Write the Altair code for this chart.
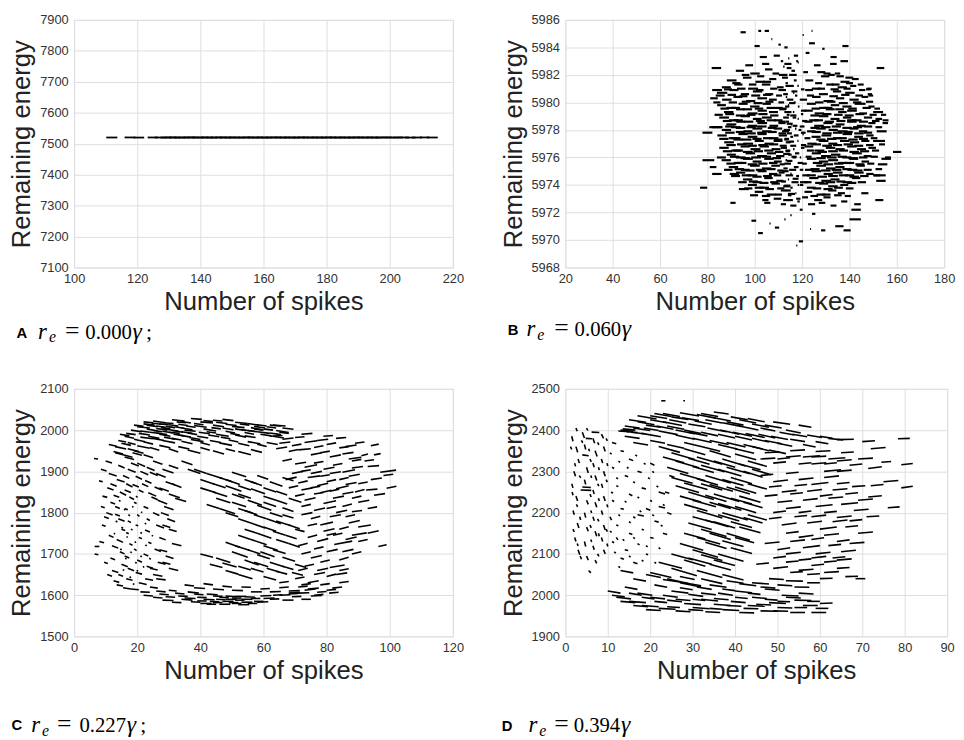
import altair as alt
import pandas as pd

# ---------------- tick values ----------------
a_xticks = [100, 120, 140, 160, 180, 200, 220]
a_yticks = [7100, 7200, 7300, 7400, 7500, 7600, 7700, 7800, 7900]
b_xticks = [20, 40, 60, 80, 100, 120, 140, 160, 180]
b_yticks = [5968, 5970, 5972, 5974, 5976, 5978, 5980, 5982, 5984, 5986]
c_xticks = [0, 20, 40, 60, 80, 100, 120]
c_yticks = [1500, 1600, 1700, 1800, 1900, 2000, 2100]
d_xticks = [0, 10, 20, 30, 40, 50, 60, 70, 80, 90]
d_yticks = [1900, 2000, 2100, 2200, 2300, 2400, 2500]

panel_letters = ["A", "B", "C", "D"]
panel_re = ["0.000", "0.060", "0.227", "0.394"]
panel_semicolon = [True, False, True, False]

# ---------------- panel A: (x, y, dx) ----------------
a_segs = [
    (110.2, 7520.0, 3.5), (116.0, 7520.2, 3.4), (118.9, 7519.8, 3.3), (123.3, 7520.1, 3.2),
    (125.6, 7520.0, 3.5), (127.4, 7519.9, 3.4), (128.9, 7520.2, 3.6), (130.2, 7520.0, 3.3),
    (131.8, 7519.8, 3.5), (133.1, 7520.1, 3.4), (134.7, 7520.0, 3.6), (136.0, 7520.2, 3.3),
    (137.5, 7519.9, 3.5), (139.1, 7520.0, 3.4), (140.4, 7520.1, 3.6), (141.9, 7519.8, 3.3),
    (143.3, 7520.0, 3.5), (144.8, 7520.2, 3.4), (146.2, 7519.9, 3.6), (147.7, 7520.0, 3.3),
    (149.0, 7520.1, 3.5), (150.6, 7519.8, 3.4), (152.1, 7520.0, 3.6), (153.5, 7520.2, 3.3),
    (155.0, 7519.9, 3.5), (156.4, 7520.0, 3.4), (157.9, 7520.1, 3.6), (159.3, 7519.8, 3.3),
    (160.8, 7520.0, 3.5), (162.2, 7520.2, 3.4), (163.7, 7519.9, 3.6), (165.1, 7520.0, 3.3),
    (166.6, 7520.1, 3.5), (168.0, 7519.8, 3.4), (169.5, 7520.0, 3.6), (170.9, 7520.2, 3.3),
    (172.4, 7519.9, 3.5), (173.8, 7520.0, 3.4), (175.3, 7520.1, 3.6), (176.7, 7519.8, 3.3),
    (178.2, 7520.0, 3.5), (179.6, 7520.2, 3.4), (181.1, 7519.9, 3.6), (182.5, 7520.0, 3.3),
    (184.0, 7520.1, 3.5), (185.4, 7519.8, 3.4), (186.9, 7520.0, 3.6), (188.3, 7520.2, 3.3),
    (189.8, 7519.9, 3.5), (191.2, 7520.0, 3.4), (192.7, 7520.1, 3.6), (194.1, 7519.8, 3.3),
    (195.6, 7520.0, 3.5), (197.3, 7520.2, 3.4), (199.0, 7519.9, 3.6), (200.9, 7520.0, 3.3),
    (202.6, 7520.1, 3.5), (204.8, 7519.8, 3.4), (207.0, 7520.0, 3.2), (209.5, 7520.2, 3.0),
    (211.8, 7520.0, 3.4),
]

# ---------------- panel B: (x, y, dx) ----------------
b_outer = [
    (94.0, 5985.1, 2.2), (101.5, 5985.2, 1.2), (104.2, 5985.2, 1.8), (124.0, 5985.2, 0.4),
    (120.2, 5984.9, 0.5), (137.0, 5984.1, 2.6), (122.9, 5984.3, 2.5), (99.9, 5984.1, 2.2),
    (107.0, 5984.6, 0.4), (110.0, 5984.2, 1.0), (128.5, 5983.9, 1.0), (132.0, 5983.3, 2.6),
    (136.2, 5983.0, 3.2), (131.8, 5982.8, 2.8), (81.8, 5982.5, 4.0), (151.5, 5982.5, 3.2),
    (133.8, 5982.1, 2.3), (138.3, 5981.8, 3.3), (82.0, 5980.9, 4.2), (147.3, 5981.0, 2.1),
    (147.7, 5980.6, 1.8), (81.2, 5980.3, 3.2), (145.5, 5979.9, 1.3), (150.0, 5979.3, 4.2),
    (153.3, 5979.1, 2.2), (154.0, 5978.5, 2.3), (80.8, 5978.2, 5.6), (151.5, 5977.9, 4.2),
    (77.9, 5977.8, 4.2), (150.0, 5977.2, 5.0), (158.4, 5976.4, 3.5), (153.5, 5975.9, 4.0),
    (77.9, 5975.8, 5.0), (152.0, 5975.5, 4.0), (81.0, 5975.3, 2.8), (82.0, 5974.8, 4.0),
    (150.3, 5974.7, 5.0), (151.3, 5974.3, 4.0), (76.9, 5973.8, 3.0), (89.4, 5974.8, 4.0),
    (93.3, 5973.7, 4.2), (145.0, 5973.4, 3.0), (150.9, 5972.9, 3.4), (89.7, 5972.7, 2.2),
    (103.2, 5972.9, 2.6), (142.0, 5972.6, 2.8), (140.8, 5972.2, 4.0), (140.0, 5971.5, 4.8),
    (98.6, 5971.4, 2.0), (134.0, 5971.0, 3.5), (137.5, 5970.7, 3.0), (128.0, 5970.7, 1.8),
    (108.5, 5970.9, 1.8), (101.4, 5970.5, 2.0), (118.6, 5969.9, 1.8), (117.5, 5969.6, 0.5),
    (124.2, 5971.9, 1.4), (106.2, 5971.2, 0.5), (112.5, 5971.5, 0.5), (123.4, 5970.8, 0.4),
]
b_core = [
    (92.0, 5982.3, 3.5), (98.1, 5982.1, 4.0), (104.3, 5982.4, 3.2), (110.2, 5982.0, 3.6), (126.4, 5982.2, 3.4), (131.0, 5982.0, 2.8),
    (88.2, 5981.6, 4.1), (95.0, 5981.8, 3.6), (100.3, 5981.5, 3.9), (106.1, 5981.7, 3.0), (121.4, 5981.6, 3.3), (128.0, 5981.9, 3.5), (136.2, 5981.5, 3.8), (141.0, 5981.7, 2.9),
    (86.1, 5981.1, 3.8), (91.3, 5981.3, 3.5), (97.2, 5981.0, 4.2), (103.0, 5981.3, 3.6), (109.4, 5981.1, 2.8), (118.0, 5981.2, 0.6), (124.1, 5981.0, 3.7), (130.2, 5981.3, 3.1), (135.0, 5981.1, 3.9), (140.3, 5981.2, 2.6),
    (84.0, 5980.7, 4.4), (89.3, 5980.9, 3.8), (94.1, 5980.6, 3.5), (99.2, 5980.8, 4.0), (104.4, 5980.6, 3.4), (110.0, 5980.9, 3.2), (116.2, 5980.7, 0.5), (121.3, 5980.9, 3.3), (127.1, 5980.6, 3.8), (133.0, 5980.8, 3.5), (138.2, 5980.7, 4.0), (144.0, 5980.9, 2.7),
    (86.2, 5980.2, 4.0), (91.0, 5980.4, 3.7), (96.3, 5980.1, 3.9), (101.1, 5980.3, 4.1), (106.0, 5980.2, 3.3), (113.1, 5980.4, 0.6), (119.0, 5980.2, 3.1), (124.2, 5980.4, 3.6), (129.0, 5980.1, 4.2), (134.3, 5980.3, 3.5), (140.0, 5980.2, 3.9), (145.1, 5980.4, 2.8),
    (84.1, 5979.8, 3.7), (88.0, 5979.6, 4.2), (93.2, 5979.9, 3.8), (98.0, 5979.7, 4.0), (103.3, 5979.9, 3.5), (108.1, 5979.6, 3.7), (114.0, 5979.8, 0.5), (118.2, 5979.7, 0.7), (122.0, 5979.9, 3.8), (127.2, 5979.6, 4.0), (132.1, 5979.8, 3.6), (137.0, 5979.7, 3.9), (142.2, 5979.9, 3.5), (148.0, 5979.7, 2.6),
    (87.0, 5979.3, 4.0), (92.1, 5979.5, 3.6), (97.0, 5979.2, 4.2), (101.2, 5979.4, 3.9), (106.0, 5979.3, 3.8), (110.3, 5979.5, 2.9), (116.1, 5979.3, 0.6), (121.0, 5979.4, 3.5), (125.3, 5979.2, 4.0), (130.0, 5979.5, 3.8), (135.2, 5979.3, 3.6), (139.0, 5979.4, 4.1), (144.1, 5979.2, 3.3),
    (85.0, 5978.9, 4.1), (89.1, 5978.7, 3.9), (94.0, 5979.0, 4.0), (99.2, 5978.8, 3.7), (103.0, 5978.9, 4.2), (108.2, 5978.7, 3.5), (112.0, 5978.9, 2.4), (118.1, 5978.8, 0.5), (123.0, 5978.7, 3.9), (127.1, 5979.0, 4.0), (132.0, 5978.8, 3.8), (137.2, 5978.9, 3.6), (141.0, 5978.7, 4.1), (146.1, 5978.9, 3.5), (151.0, 5978.8, 2.8),
    (88.0, 5978.4, 4.2), (92.2, 5978.6, 3.8), (97.0, 5978.3, 4.0), (101.1, 5978.5, 4.1), (106.2, 5978.3, 3.7), (110.0, 5978.5, 3.0), (115.2, 5978.4, 0.6), (121.0, 5978.6, 3.4), (125.1, 5978.3, 4.1), (129.0, 5978.5, 3.9), (134.2, 5978.4, 3.7), (139.0, 5978.6, 4.0), (143.1, 5978.3, 3.8), (148.0, 5978.5, 3.0),
    (86.1, 5978.0, 3.9), (90.0, 5978.2, 4.1), (95.2, 5977.9, 3.8), (99.0, 5978.1, 4.2), (103.1, 5977.9, 4.0), (108.0, 5978.1, 3.6), (112.2, 5978.0, 2.7), (117.0, 5978.1, 0.6), (122.1, 5977.9, 3.6), (126.0, 5978.1, 4.0), (131.2, 5978.0, 3.9), (135.0, 5977.9, 4.2), (140.1, 5978.1, 3.7), (144.0, 5977.9, 3.5),
    (84.2, 5977.6, 4.0), (89.0, 5977.4, 4.2), (93.1, 5977.7, 3.9), (97.0, 5977.5, 4.1), (101.2, 5977.7, 3.8), (106.0, 5977.4, 4.0), (110.1, 5977.6, 3.5), (115.0, 5977.5, 1.2), (120.1, 5977.7, 0.6), (124.0, 5977.5, 3.8), (128.2, 5977.6, 4.1), (133.0, 5977.4, 3.9), (137.1, 5977.7, 4.0), (142.0, 5977.5, 3.7), (147.1, 5977.6, 3.1),
    (87.1, 5977.1, 4.1), (91.0, 5977.3, 3.9), (95.1, 5977.0, 4.2), (100.0, 5977.2, 3.8), (104.1, 5977.0, 4.0), (108.0, 5977.2, 3.7), (113.1, 5977.1, 2.0), (118.0, 5977.2, 0.5), (122.2, 5977.0, 3.9), (127.0, 5977.2, 4.1), (131.1, 5977.0, 3.8), (136.0, 5977.2, 4.0), (140.2, 5977.1, 3.9), (145.0, 5977.2, 3.4),
    (85.0, 5976.7, 4.0), (90.1, 5976.5, 4.1), (94.0, 5976.8, 3.9), (98.2, 5976.6, 4.2), (102.0, 5976.8, 4.0), (107.1, 5976.6, 3.8), (111.0, 5976.7, 2.6), (116.2, 5976.6, 0.6), (121.0, 5976.8, 3.7), (125.2, 5976.5, 4.2), (130.0, 5976.7, 4.0), (134.1, 5976.6, 3.9), (139.0, 5976.8, 4.1), (143.2, 5976.6, 3.8), (148.0, 5976.7, 3.2),
    (88.2, 5976.2, 3.8), (92.0, 5976.0, 4.1), (96.1, 5976.3, 4.0), (101.0, 5976.1, 4.2), (105.1, 5976.3, 3.9), (109.0, 5976.1, 3.5), (114.1, 5976.2, 1.5), (119.0, 5976.0, 0.6), (124.1, 5976.3, 3.9), (128.0, 5976.1, 4.2), (132.2, 5976.2, 4.0), (137.0, 5976.0, 3.8), (141.1, 5976.3, 4.1), (146.0, 5976.1, 3.3),
    (86.0, 5975.8, 3.9), (91.1, 5975.6, 4.0), (95.0, 5975.9, 4.2), (99.1, 5975.7, 3.8), (104.0, 5975.9, 4.0), (108.1, 5975.7, 3.3), (113.0, 5975.8, 0.6), (118.1, 5975.6, 2.2), (122.0, 5975.9, 4.0), (127.1, 5975.7, 3.9), (131.0, 5975.8, 4.2), (135.2, 5975.6, 4.0), (140.0, 5975.9, 3.7), (145.1, 5975.7, 3.2),
    (89.0, 5975.3, 4.0), (94.1, 5975.1, 3.8), (98.0, 5975.4, 4.1), (103.1, 5975.2, 3.9), (107.0, 5975.4, 3.6), (112.1, 5975.2, 1.8), (117.0, 5975.3, 0.5), (121.2, 5975.1, 3.8), (126.0, 5975.4, 4.1), (130.1, 5975.2, 4.0), (134.0, 5975.3, 3.9), (139.1, 5975.1, 4.2), (143.0, 5975.4, 3.5),
    (92.1, 5974.9, 3.9), (97.0, 5974.7, 4.1), (101.2, 5975.0, 3.8), (106.0, 5974.8, 3.6), (110.1, 5974.9, 2.5), (115.0, 5974.8, 0.6), (120.1, 5974.7, 3.0), (124.0, 5975.0, 4.0), (129.1, 5974.8, 3.9), (133.0, 5974.9, 4.1), (138.2, 5974.7, 3.8), (142.0, 5974.9, 4.0), (147.1, 5974.8, 3.1),
    (95.0, 5974.4, 4.0), (99.1, 5974.2, 3.8), (104.0, 5974.5, 3.6), (109.1, 5974.3, 3.0), (114.0, 5974.4, 0.5), (119.1, 5974.2, 3.2), (123.0, 5974.5, 3.9), (128.1, 5974.3, 4.1), (132.0, 5974.4, 3.8), (137.1, 5974.2, 4.0), (141.0, 5974.5, 3.6),
    (97.1, 5974.0, 3.8), (102.0, 5973.8, 4.0), (107.1, 5974.1, 3.5), (112.0, 5973.9, 2.8), (118.1, 5974.0, 0.6), (122.0, 5973.8, 3.7), (127.1, 5974.1, 3.9), (131.0, 5973.9, 4.0), (136.1, 5974.0, 3.4),
    (100.0, 5973.5, 3.6), (105.1, 5973.3, 3.8), (111.0, 5973.6, 2.4), (117.1, 5973.4, 0.5), (121.0, 5973.5, 3.3), (126.1, 5973.3, 3.7), (131.0, 5973.6, 3.5), (135.1, 5973.4, 3.0),
    (108.0, 5973.0, 3.2), (114.1, 5972.9, 2.0), (120.0, 5973.1, 2.5), (125.1, 5972.9, 3.4), (129.0, 5973.1, 3.0),
    (96.0, 5982.7, 3.3), (103.1, 5982.8, 3.0), (112.0, 5982.6, 0.6), (118.1, 5982.9, 0.5), (125.0, 5982.7, 2.8),
    (102.1, 5983.3, 3.0), (108.0, 5983.4, 2.6), (114.1, 5983.2, 0.5),
]
b_core2 = [
    (94.5, 5982.0, 3.2), (101.0, 5981.9, 3.0), (107.5, 5982.1, 2.8), (129.0, 5982.1, 3.0), (134.5, 5981.9, 3.1),
    (90.5, 5981.4, 3.5), (97.5, 5981.3, 3.2), (103.5, 5981.5, 3.4), (113.0, 5981.4, 1.0), (125.5, 5981.4, 3.0), (132.5, 5981.3, 3.3), (138.5, 5981.4, 3.0), (143.5, 5981.3, 2.5),
    (87.0, 5980.95, 3.4), (92.5, 5981.0, 3.6), (100.5, 5980.9, 3.2), (106.5, 5981.0, 3.0), (119.5, 5980.95, 1.5), (126.5, 5981.0, 3.2), (132.0, 5980.95, 3.5), (137.5, 5981.0, 3.0), (147.0, 5980.95, 2.0),
    (83.5, 5980.5, 3.8), (88.5, 5980.55, 3.6), (93.5, 5980.45, 3.4), (98.5, 5980.5, 3.8), (103.5, 5980.55, 3.5), (109.0, 5980.5, 2.5), (122.0, 5980.5, 3.0), (131.5, 5980.45, 3.6), (136.5, 5980.55, 3.5), (142.5, 5980.5, 3.2), (148.0, 5980.5, 2.0),
    (82.5, 5980.0, 3.0), (89.0, 5980.0, 3.5), (94.5, 5980.05, 3.6), (99.5, 5979.95, 3.8), (104.5, 5980.05, 3.4), (110.0, 5980.0, 2.4), (116.5, 5980.0, 0.8), (125.5, 5980.0, 3.5), (130.5, 5980.05, 3.6), (135.5, 5979.95, 3.8), (141.5, 5980.0, 3.5), (147.0, 5980.05, 3.0),
    (85.5, 5979.55, 3.6), (90.0, 5979.6, 3.8), (95.0, 5979.5, 3.9), (100.0, 5979.55, 3.6), (105.0, 5979.6, 3.4), (111.5, 5979.55, 2.0), (124.0, 5979.55, 3.6), (129.0, 5979.6, 3.8), (134.0, 5979.5, 3.7), (139.5, 5979.55, 3.6), (145.5, 5979.6, 3.5), (150.5, 5979.55, 2.4),
    (83.0, 5979.1, 3.5), (87.5, 5979.15, 3.8), (92.0, 5979.05, 4.0), (96.5, 5979.1, 3.8), (101.5, 5979.15, 3.9), (106.5, 5979.05, 3.5), (113.5, 5979.1, 1.2), (119.5, 5979.15, 1.0), (123.5, 5979.05, 3.8), (128.5, 5979.15, 3.9), (133.5, 5979.1, 3.6), (138.0, 5979.05, 3.8), (142.5, 5979.15, 3.8), (148.5, 5979.1, 3.0),
    (86.5, 5978.65, 3.8), (91.0, 5978.7, 4.0), (95.5, 5978.6, 3.9), (100.5, 5978.65, 3.8), (105.0, 5978.7, 3.9), (110.0, 5978.6, 3.0), (120.0, 5978.65, 2.2), (125.0, 5978.7, 3.8), (129.5, 5978.6, 4.0), (134.5, 5978.65, 3.8), (139.0, 5978.7, 3.9), (144.0, 5978.6, 3.8), (149.5, 5978.65, 3.2), (154.0, 5978.7, 2.5),
    (82.0, 5978.2, 4.0), (87.5, 5978.25, 3.9), (92.0, 5978.15, 4.0), (96.5, 5978.2, 3.9), (101.0, 5978.25, 4.0), (105.5, 5978.15, 3.8), (114.0, 5978.2, 1.5), (119.0, 5978.25, 2.0), (123.5, 5978.15, 3.9), (128.0, 5978.2, 4.0), (132.5, 5978.25, 3.9), (137.0, 5978.15, 4.0), (141.5, 5978.2, 3.9), (146.0, 5978.25, 3.6), (151.0, 5978.2, 2.8),
    (87.5, 5977.8, 4.0), (92.0, 5977.85, 4.1), (96.5, 5977.75, 3.9), (101.0, 5977.8, 4.0), (105.5, 5977.85, 3.8), (110.0, 5977.75, 3.2), (119.5, 5977.8, 2.0), (124.0, 5977.85, 3.9), (128.5, 5977.75, 4.0), (133.0, 5977.8, 4.1), (137.5, 5977.85, 3.9), (142.0, 5977.75, 4.0), (146.0, 5977.8, 3.6),
    (85.0, 5977.35, 3.9), (90.0, 5977.4, 4.0), (94.5, 5977.3, 4.1), (99.0, 5977.35, 3.9), (103.5, 5977.4, 4.0), (108.0, 5977.3, 3.7), (112.5, 5977.35, 2.0), (121.0, 5977.4, 2.5), (126.0, 5977.3, 3.9), (130.5, 5977.35, 4.0), (135.0, 5977.4, 3.9), (139.5, 5977.3, 4.0), (144.0, 5977.35, 3.8), (149.0, 5977.4, 2.8),
    (88.0, 5976.9, 4.0), (92.5, 5976.95, 4.1), (97.0, 5976.85, 3.9), (101.5, 5976.9, 4.0), (106.0, 5976.95, 3.9), (110.5, 5976.85, 3.0), (119.5, 5976.9, 2.2), (124.0, 5976.95, 4.0), (128.5, 5976.85, 4.1), (133.0, 5976.9, 3.9), (137.5, 5976.95, 4.0), (142.0, 5976.85, 3.8), (147.0, 5976.9, 3.2), (152.5, 5976.95, 2.5),
    (86.5, 5976.45, 3.9), (91.0, 5976.5, 4.0), (95.0, 5976.4, 4.1), (99.5, 5976.45, 4.0), (104.0, 5976.5, 3.9), (108.5, 5976.4, 3.6), (113.0, 5976.45, 1.8), (122.0, 5976.5, 3.0), (126.5, 5976.4, 4.0), (131.0, 5976.45, 4.1), (135.5, 5976.5, 3.9), (140.0, 5976.4, 4.0), (144.5, 5976.45, 3.8), (149.5, 5976.5, 3.0),
    (84.0, 5976.0, 3.8), (89.5, 5976.05, 4.0), (94.0, 5975.95, 4.0), (98.5, 5976.0, 4.1), (103.0, 5976.05, 3.9), (107.5, 5975.95, 3.6), (116.0, 5976.0, 1.5), (121.5, 5976.05, 2.5), (126.0, 5975.95, 4.0), (130.5, 5976.0, 4.1), (135.0, 5976.05, 3.9), (139.5, 5975.95, 4.0), (144.0, 5976.0, 3.6), (149.0, 5976.05, 3.0), (155.0, 5976.0, 2.5),
    (88.0, 5975.55, 3.9), (92.5, 5975.6, 4.0), (97.0, 5975.5, 4.1), (101.5, 5975.55, 3.9), (106.0, 5975.6, 3.6), (110.5, 5975.5, 2.2), (120.0, 5975.55, 2.0), (124.5, 5975.6, 4.0), (129.0, 5975.5, 4.1), (133.5, 5975.55, 3.9), (138.0, 5975.6, 4.0), (142.5, 5975.5, 3.8), (147.5, 5975.55, 3.0),
    (87.0, 5975.1, 3.6), (91.5, 5975.15, 4.0), (96.0, 5975.05, 3.9), (100.5, 5975.1, 4.0), (105.0, 5975.15, 3.8), (109.5, 5975.05, 2.6), (119.0, 5975.1, 1.5), (123.5, 5975.15, 3.9), (128.0, 5975.05, 4.0), (132.5, 5975.1, 4.1), (137.0, 5975.15, 3.9), (141.5, 5975.05, 4.0), (146.0, 5975.1, 3.4), (151.0, 5975.15, 2.8),
    (90.0, 5974.65, 3.8), (94.5, 5974.7, 4.0), (99.0, 5974.6, 3.9), (103.5, 5974.65, 3.7), (108.0, 5974.7, 3.2), (117.5, 5974.65, 1.2), (122.0, 5974.7, 3.8), (126.5, 5974.6, 4.0), (131.0, 5974.65, 4.1), (135.5, 5974.7, 3.9), (140.0, 5974.6, 4.0), (144.5, 5974.65, 3.6), (150.0, 5974.7, 3.0),
    (93.0, 5974.2, 3.6), (97.5, 5974.25, 3.9), (102.0, 5974.15, 3.8), (106.5, 5974.2, 3.4), (111.0, 5974.25, 2.2), (121.0, 5974.2, 3.0), (125.5, 5974.15, 3.9), (130.0, 5974.2, 4.0), (134.5, 5974.25, 3.8), (139.0, 5974.15, 3.9), (143.5, 5974.2, 3.5),
    (95.5, 5973.75, 3.5), (100.0, 5973.8, 3.8), (104.5, 5973.7, 3.6), (109.5, 5973.75, 3.0), (115.0, 5973.8, 1.0), (124.5, 5973.75, 3.6), (129.0, 5973.7, 3.9), (133.5, 5973.8, 3.7), (138.5, 5973.75, 3.2),
    (98.0, 5973.25, 3.4), (103.0, 5973.2, 3.5), (108.5, 5973.3, 3.0), (114.0, 5973.25, 1.5), (123.5, 5973.2, 3.2), (128.5, 5973.3, 3.5), (133.5, 5973.25, 3.2), (138.0, 5973.2, 2.6),
    (104.0, 5972.7, 2.6), (111.0, 5972.6, 2.2), (118.0, 5972.8, 1.0), (122.5, 5972.6, 3.0), (127.0, 5972.7, 2.8), (132.0, 5972.5, 2.5), (136.5, 5972.8, 2.6),
]
b_mid = [
    (111.5, 5981.8, 2.5), (116.5, 5981.6, 1.2), (120.5, 5982.2, 2.0), (113.5, 5980.2, 2.8), (117.0, 5980.5, 1.0),
    (119.5, 5979.4, 2.2), (112.5, 5979.3, 3.0), (116.0, 5978.9, 1.5), (113.5, 5978.45, 2.5), (118.5, 5978.0, 1.2),
    (111.5, 5977.9, 3.0), (116.5, 5977.6, 2.0), (114.0, 5977.15, 2.6), (119.5, 5976.7, 1.5), (112.0, 5976.25, 3.0),
    (117.0, 5976.3, 1.8), (113.5, 5975.75, 2.4), (116.5, 5975.3, 2.0), (111.5, 5975.0, 2.8), (116.0, 5974.45, 2.5),
    (119.0, 5974.0, 1.5), (113.0, 5973.6, 2.2), (117.5, 5973.0, 1.8), (115.5, 5982.3, 1.5), (117.5, 5983.0, 0.8),
    (121.5, 5983.6, 1.6), (111.0, 5983.0, 1.0), (119.0, 5972.2, 1.2), (115.0, 5971.8, 0.6),
]
b_mid2 = [
    (112.5, 5982.8, 3.0), (114.5, 5982.0, 3.2), (113.0, 5981.2, 3.5), (115.5, 5980.8, 2.5), (112.0, 5980.6, 2.0),
    (114.5, 5979.95, 2.5), (112.8, 5979.7, 1.8), (115.0, 5979.05, 2.6), (113.0, 5978.6, 1.5), (116.0, 5978.3, 2.0),
    (113.5, 5977.75, 2.2), (112.5, 5977.3, 1.5), (115.0, 5976.85, 2.5), (113.0, 5976.5, 2.0), (115.5, 5976.05, 2.2),
    (112.5, 5975.55, 2.8), (114.5, 5975.1, 3.0), (113.0, 5974.7, 3.2), (115.5, 5974.2, 3.0), (112.5, 5973.95, 2.6),
    (114.0, 5973.35, 3.0), (112.0, 5972.9, 2.5), (115.0, 5972.5, 2.6), (113.5, 5982.5, 2.0), (116.5, 5983.4, 1.8),
    (112.5, 5984.0, 1.4),
]

# ---------------- panel C: (x, y, dx, dy) ----------------
c_top = [
    (22, 2015, 3.5, -3), (25, 2022, 4, -4), (28, 2018, 3.5, -2), (31, 2025, 4, -3), (34, 2021, 3, -4), (37, 2028, 3.5, -2),
    (40, 2020, 4, -3), (44, 2024, 3, -2), (47, 2026, 3.5, -3), (51, 2019, 4, -3), (55, 2016, 3.5, -4), (58, 2013, 3, -3),
    (62, 2012, 3.5, -2), (63, 2012, 4, -2),
    (18, 2000, 3.5, -4), (20, 2008, 4, -3), (23, 2003, 3.5, -5), (24, 1995, 4, -4), (26, 2010, 3, -3), (27, 1990, 3.5, -5),
    (29, 2002, 4, -4), (30, 1995, 3.5, -3), (32, 2008, 3, -4), (33, 1988, 4, -5), (35, 2000, 3.5, -3), (36, 1993, 3, -4),
    (38, 2011, 4, -4), (39, 1985, 3.5, -4), (41, 2003, 4, -5), (42, 1996, 3, -3), (44, 2012, 3.5, -4), (45, 1990, 4, -5),
    (47, 2005, 3.5, -4), (48, 1997, 3, -4), (50, 2009, 4, -3), (51, 1988, 3.5, -5), (53, 2001, 4, -4), (54, 1994, 3, -4),
    (56, 2006, 3.5, -5), (58, 1996, 4, -4), (60, 2003, 3, -3), (62, 1993, 3.5, -4), (64, 1999, 4, -5),
    (21, 1998, 3, -3), (23, 2012, 3.5, -4), (25, 1999, 3, -3), (26, 2004, 3.5, -4), (27, 2015, 3, -2), (28, 1997, 3.5, -4),
    (29, 2009, 3, -3), (31, 1999, 3.5, -4), (33, 2014, 3, -3), (34, 2005, 3.5, -4), (55, 1999, 3, -3), (57, 2009, 3.5, -4),
    (16, 1985, 3, -5), (19, 1978, 3.5, -6), (21, 1983, 4, -4), (22, 1972, 3, -6), (25, 1980, 3.5, -5), (28, 1975, 4, -6),
    (31, 1980, 3, -4), (34, 1973, 3.5, -6), (37, 1977, 4, -5), (40, 1970, 3, -6), (43, 1975, 3.5, -5), (46, 1969, 4, -6),
    (49, 1976, 3, -5), (52, 1968, 3.5, -6), (55, 1972, 4, -5), (58, 1966, 3, -6), (61, 1970, 3.5, -5),
    (13, 1960, 3.5, -6), (15, 1968, 3, -5), (17, 1955, 3.5, -7), (20, 1962, 4, -6), (24, 1958, 3, -7), (27, 1963, 3.5, -6),
    (30, 1955, 3, -8), (33, 1960, 3.5, -6), (36, 1952, 4, -8), (40, 1958, 3, -7), (44, 1950, 3.5, -8), (48, 1955, 3, -6),
    (52, 1948, 4, -8), (56, 1953, 3.5, -7),
]
c_top2 = [
    (19, 2012, 3, -3), (20.5, 1992, 3.5, -4), (22, 2020, 3, -2), (23.5, 1985, 3.5, -5), (24.5, 2017, 3, -3), (26, 1993, 3.5, -4),
    (27.5, 2006, 3, -3), (28.5, 1983, 3.5, -5), (30, 2013, 3, -3), (31.5, 1990, 3.5, -4), (32.5, 2020, 3, -2), (34, 1996, 3.5, -4),
    (35.5, 2010, 3, -3), (36.5, 1982, 3.5, -5), (38, 2016, 3, -3), (39.5, 1995, 3.5, -4), (41, 2023, 3, -2), (42.5, 1988, 3.5, -4),
    (43.5, 2006, 3, -3), (45, 2019, 3.5, -3), (46.5, 1983, 3, -4), (48, 2014, 3.5, -3), (49.5, 1992, 3, -4), (51, 2003, 3.5, -4),
    (52.5, 2015, 3, -3), (54, 1986, 3.5, -4), (57, 2003, 3, -3), (59, 1990, 3.5, -4), (61, 2008, 3, -3), (63, 1985, 3.5, -4),
    (65, 1995, 3, -3), (66, 2005, 3.5, -3),
    (11, 1965, 2.5, -4), (12.5, 1948, 3, -6), (14, 1975, 2.5, -4), (15.5, 1940, 3, -6), (17, 1970, 2.5, -5), (18.5, 1945, 3, -6),
    (14.5, 1990, 3, -4), (16.5, 1992, 3, -3),
]
c_right = [
    (62, 1985, 4, 2), (66, 1978, 3.5, 3), (70, 1982, 3, 2), (73, 1970, 4, 4), (77, 1975, 3.5, 3), (80, 1965, 3, 4),
    (83, 1980, 3.2, 2), (86, 1960, 3.5, 4), (89, 1968, 3, 3), (94, 1962, 2.5, 4),
    (64, 1955, 3.5, 4), (68, 1948, 3, 5), (71, 1952, 4, 3), (75, 1940, 3.5, 5), (78, 1945, 3, 4), (81, 1935, 3.5, 5),
    (84, 1957, 3, 3), (87, 1930, 4, 4), (91, 1938, 2.1, 4), (95, 1940, 2.1, 3),
    (66, 1925, 3, 5), (70, 1918, 3.5, 4), (73, 1910, 4, 6), (76, 1920, 3, 4), (79, 1905, 3.5, 5), (82, 1915, 3, 4),
    (85, 1898, 4, 6), (88, 1908, 3.5, 4), (93, 1912, 3.6, 2), (97, 1898, 5, 5), (98, 1890, 3.1, 3),
    (67, 1880, 3.5, 6), (71, 1872, 3, 5), (74, 1885, 4, 4), (77, 1865, 3.5, 6), (80, 1875, 3, 5), (83, 1858, 4, 7),
    (86, 1868, 3.5, 5), (89, 1850, 3, 6), (92.5, 1855, 3.6, 2), (99, 1859, 3.1, 5), (95, 1842, 3.5, 4),
    (70, 1840, 3, 5), (73, 1830, 3.5, 6), (76, 1845, 3, 4), (79, 1822, 4, 7), (82, 1835, 3.5, 5), (85, 1815, 3, 6),
    (88, 1802, 3.2, 3), (90, 1825, 3.5, 5), (93, 1810, 3, 4),
    (72, 1795, 3.5, 5), (75, 1785, 3, 6), (78, 1770, 4, 7), (81, 1790, 3.5, 5), (84, 1760, 3, 6), (87, 1775, 3.5, 6),
    (90, 1765, 4, 5), (93, 1750, 3.5, 6),
    (74, 1740, 3, 6), (77, 1730, 3.5, 7), (80, 1745, 3, 5), (82.4, 1723, 5.7, 8), (88, 1745, 4.7, 6), (96.4, 1718, 2.6, 4),
    (85, 1705, 3.5, 6),
    (72, 1700, 3, 5), (75, 1690, 3.5, 6), (78, 1680, 3, 5), (81, 1667, 4.7, 6), (84, 1685, 3, 7), (77, 1660, 3.5, 5),
    (80, 1645, 3, 6), (83, 1650, 3.5, 4),
    (70, 1640, 3, 4), (74, 1630, 3.5, 5), (78, 1625, 3, 3), (81.8, 1617, 3.1, 3), (80.8, 1605, 3, 2), (73, 1612, 3.5, 3),
    (76, 1600, 3, 2), (68, 1605, 3.5, 2),
]
c_right2 = [
    (65, 1968, 3.5, 3), (69, 1962, 3, 4), (72, 1990, 3.5, 2), (76, 1958, 3, 4), (79, 1985, 3, 2), (85, 1942, 3.5, 4),
    (88, 1925, 3, 4), (92, 1925, 3, 3), (69, 1895, 3.5, 5), (72, 1900, 3, 4), (75, 1895, 3.5, 5), (78, 1888, 3, 4),
    (81, 1895, 3.5, 4), (84, 1880, 3, 5), (87, 1888, 3.5, 5), (90, 1870, 3, 4), (94, 1880, 3.5, 4), (68, 1860, 3, 5),
    (72, 1855, 3.5, 5), (75, 1860, 3, 4), (78, 1848, 3.5, 6), (81, 1852, 3, 5), (85, 1845, 3.5, 5), (88, 1835, 3, 5),
    (72, 1815, 3, 5), (76, 1805, 3.5, 6), (80, 1810, 3, 5), (83, 1800, 3.5, 6), (86, 1790, 3, 5), (74, 1768, 3, 5),
    (79, 1755, 3.5, 6), (82, 1745, 3, 5), (86, 1735, 3.5, 6), (90, 1730, 3, 5), (76, 1712, 3, 5), (80, 1705, 3.5, 6),
    (88, 1700, 3, 5), (73, 1670, 3, 5), (76, 1650, 3.5, 5), (84, 1630, 3, 3), (84, 1660, 3, 4), (71, 1720, 3, 6),
    (71, 1660, 3, 5), (72, 1625, 3, 3), (65, 1630, 3, 3),
]
c_diag = [
    (38, 1905, 4, -10), (42, 1895, 5, -12), (46, 1885, 4, -10), (50, 1898, 4.5, -11), (54, 1880, 4, -10), (58, 1890, 3.5, -9),
    (62, 1875, 4, -11), (66, 1885, 3.5, -8), (34, 1925, 3.5, -9), (30, 1915, 3, -8),
    (40, 1860, 5, -12), (44, 1850, 4.5, -11), (48, 1865, 5, -13), (52, 1845, 4, -10), (56, 1858, 4.5, -12), (60, 1840, 4, -10),
    (64, 1852, 3.5, -9), (68, 1835, 4, -10),
    (42, 1820, 4, -10), (46, 1810, 5, -13), (50, 1825, 4.5, -11), (54, 1805, 4, -10), (58, 1818, 4.5, -12), (62, 1800, 4, -10),
    (66, 1812, 3.5, -9),
    (56, 1775, 4.5, -12), (60, 1765, 4, -10), (64, 1780, 4.5, -11), (68, 1770, 3.5, -9), (52, 1785, 4, -10),
    (48, 1728, 4.5, -12), (52, 1745, 4, -10), (56, 1735, 5, -13), (60, 1720, 4.5, -11), (64, 1735, 4, -10),
    (68, 1725, 3.5, -9),
    (40, 1700, 4, -8), (45, 1690, 4.5, -11), (50, 1705, 5, -13), (54, 1685, 4.5, -12), (58, 1698, 4, -10), (62, 1680, 4.5, -11),
    (66, 1692, 4, -10), (70, 1675, 3.5, -8),
    (48, 1660, 4, -9), (52, 1650, 4.5, -10), (56, 1665, 4, -9), (60, 1645, 4, -8), (64, 1658, 3.5, -7),
]
c_diag2 = [
    (36, 1905, 4, -10), (40, 1880, 4.5, -11), (44, 1870, 4, -10), (48, 1880, 4.5, -12), (52, 1865, 4, -10), (56, 1875, 3.5, -9),
    (60, 1860, 4, -10), (45, 1835, 4.5, -11), (50, 1845, 4, -10), (55, 1830, 4.5, -12), (60, 1825, 4, -10), (64, 1830, 3.5, -9),
    (48, 1800, 4, -10), (52, 1810, 4.5, -11), (57, 1795, 4, -10), (61, 1785, 4.5, -12), (66, 1795, 3.5, -8), (54, 1760, 4, -10),
    (58, 1750, 4.5, -12), (63, 1755, 4, -10), (51, 1720, 4.5, -11), (55, 1710, 4, -10), (59, 1705, 4.5, -12),
    (63, 1710, 4, -9), (43, 1675, 4, -8), (47, 1678, 4.5, -10), (52, 1670, 4, -9), (57, 1680, 4.5, -11), (61, 1665, 4, -9),
    (66, 1670, 3.5, -8), (69, 1655, 3.5, -7), (67, 1745, 3.5, -8), (70, 1760, 3, -6),
]
c_left = [
    (6.3, 1931, 1.3, -1), (6.5, 1718, 1.5, 0), (6.5, 1700, 1.2, -2), (7.9, 1877, 1.2, -2), (9, 1840, 1.5, -3), (8.5, 1905, 1.8, -4),
    (8.8, 1770, 1.2, -3),
    (10, 1925, 2, -5), (11, 1895, 2.5, -6), (10.5, 1860, 2, -5), (11.5, 1825, 1.5, -4), (10.2, 1800, 2, -6), (11, 1745, 1.5, -5),
    (12, 1720, 2, -6), (11.5, 1690, 1.5, -4), (12, 1660, 2, -5), (12.5, 1635, 1.8, -4),
    (13, 1945, 2.5, -5), (14, 1915, 2, -7), (13.5, 1880, 2.5, -6), (14.5, 1850, 2, -8), (13, 1815, 1.5, -5), (14, 1785, 2, -6),
    (15, 1760, 1.2, -3), (13.5, 1735, 2, -7), (14.5, 1705, 1.5, -5), (15, 1675, 2, -6), (14, 1650, 1.5, -4),
    (16, 1935, 3, -6), (17, 1905, 2.5, -7), (16.5, 1870, 2, -8), (17.5, 1838, 1.5, -6), (16, 1810, 1, -3), (17, 1780, 1, -4),
    (16.5, 1752, 0.8, -3), (17.5, 1725, 1, -4), (16, 1695, 1.5, -5), (17, 1665, 2, -6), (16.5, 1640, 2, -4),
    (19, 1950, 3, -6), (20, 1920, 2.5, -8), (19.5, 1888, 2, -7), (20.5, 1855, 1.5, -6), (19, 1825, 0.8, -3), (20, 1795, 0.7, -4),
    (19.5, 1770, 0.8, -2), (20.5, 1740, 1, -3), (19, 1712, 0.8, -4), (20, 1685, 1.5, -5), (19.5, 1655, 2, -4), (20.5, 1630, 2.5, -4),
    (22, 1940, 3, -7), (23, 1910, 2.5, -8), (22.5, 1878, 2, -7), (23.5, 1848, 2.5, -8), (22, 1815, 1.5, -5), (23, 1785, 1, -4),
    (22.5, 1758, 1.5, -5), (23.5, 1728, 1, -3), (22, 1700, 1.5, -5), (23, 1670, 2, -5), (22.5, 1640, 2.5, -4),
    (25, 1925, 3, -8), (26, 1895, 3, -9), (25.5, 1862, 2.5, -8), (26.5, 1830, 3, -9), (25, 1800, 2, -7), (26, 1770, 2.5, -7),
    (27, 1740, 2, -6), (25.5, 1712, 2, -6), (26.5, 1680, 2.5, -5), (25, 1650, 3, -4),
    (28, 1905, 3.5, -9), (29, 1875, 3, -8), (30, 1845, 3.5, -9), (28.5, 1815, 3, -8), (29.5, 1785, 2.5, -7), (31, 1870, 3, -9),
    (32, 1835, 3.5, -8), (30, 1760, 2.5, -6), (31, 1725, 3, -5), (29, 1695, 2.5, -6), (30, 1665, 3, -5),
]
c_left2 = [
    (14.2, 1830, 0.5, -3), (15.8, 1808, 0.4, -2), (17.2, 1795, 0.5, -3), (18.4, 1815, 0.4, -2), (19.6, 1840, 0.5, -3),
    (21.2, 1802, 0.4, -2), (15, 1765, 0.5, -3), (16.6, 1742, 0.4, -2), (18, 1760, 0.5, -2), (19.2, 1730, 0.4, -3),
    (21, 1752, 0.5, -2), (22.4, 1775, 0.4, -3), (14.6, 1712, 0.5, -2), (16.2, 1690, 0.4, -3), (17.8, 1705, 0.5, -2),
    (19.4, 1680, 0.4, -3), (21, 1695, 0.5, -2), (22.6, 1722, 0.4, -3), (15.4, 1662, 0.5, -2), (17.6, 1645, 0.4, -3),
    (19.8, 1660, 0.5, -2), (21.8, 1670, 0.4, -3), (18.6, 1628, 0.5, -2), (23.8, 1690, 0.5, -3), (24.6, 1745, 0.4, -2),
    (13.2, 1780, 0.5, -3), (12.6, 1750, 0.4, -2),
    (11.5, 1870, 2, -6), (12.5, 1842, 1.8, -5), (13, 1796, 1.5, -4), (15.5, 1890, 2, -7), (16, 1855, 2, -6), (18, 1920, 2.5, -7),
    (18.5, 1868, 2, -6), (21, 1900, 2.5, -8), (21.5, 1870, 2, -7), (24, 1898, 2.5, -8), (24.5, 1838, 2, -7), (27, 1860, 3, -8),
    (27.5, 1800, 2.5, -7), (28, 1770, 2.5, -6), (27, 1710, 2.5, -5), (28, 1680, 2.5, -5), (24, 1665, 2.5, -4), (26, 1640, 3, -3),
    (13.5, 1625, 2, -3), (15.5, 1618, 2.5, -3), (10.5, 1650, 1.5, -4), (9.5, 1680, 1.2, -3), (8, 1730, 1.5, -3),
    (9.5, 1790, 1.5, -4), (8.5, 1815, 1.2, -3),
]
c_bottom = [
    (18, 1615, 2.5, -2), (21, 1608, 3, -1), (24, 1620, 2.5, -3), (27, 1603, 3, -2), (30, 1612, 2.5, -2), (33, 1598, 3, -1),
    (36, 1608, 3.5, -3), (39, 1595, 3, -1), (42, 1603, 3.5, -2), (45, 1590, 3, -1), (48, 1598, 3.5, -2), (51, 1588, 3, 0),
    (54, 1596, 3.5, -1), (57, 1585, 3, 0), (60, 1592, 3.5, 1), (63, 1600, 3, 1), (66, 1588, 3.5, 0), (69, 1596, 3, 1),
    (72, 1590, 3, 0), (75, 1598, 3.5, 1),
    (25, 1595, 3, -2), (28, 1588, 3.5, -1), (31, 1583, 3, -1), (34, 1590, 3.5, -2), (37, 1584, 3, -1), (40, 1580, 3.5, 0),
    (43, 1585, 3, -1), (46, 1578, 3.5, 0), (49, 1582, 3, 0), (52, 1577, 3.5, 0), (55, 1580, 3, 0), (58, 1583, 3.5, 1),
    (35, 1625, 3, -3), (38, 1618, 3.5, -2), (41, 1628, 3, -3), (44, 1615, 3.5, -2), (47, 1622, 3, -2), (50, 1612, 3.5, -1),
    (53, 1620, 3, -1), (56, 1608, 3.5, 0), (59, 1615, 3, 1), (62, 1608, 3.5, 1), (65, 1618, 3, 2), (68, 1610, 3.5, 1),
    (71, 1620, 3, 2), (74, 1615, 3.5, 2),
]
c_bottom2 = [
    (22, 1600, 3, -2), (26, 1610, 3, -2), (29, 1596, 3, -1), (32, 1605, 3, -2), (35, 1593, 3.5, -1), (38, 1603, 3, -2),
    (41, 1590, 3.5, -1), (44, 1598, 3, -1), (47, 1585, 3.5, 0), (50, 1593, 3, 0), (53, 1583, 3.5, 0), (56, 1592, 3, 0),
    (59, 1598, 3.5, 1), (62, 1590, 3, 1), (65, 1600, 3.5, 1), (68, 1603, 3, 1), (71, 1605, 3.5, 1), (77, 1607, 3, 2),
    (80, 1612, 3, 2), (44, 1582, 3, 0), (48, 1590, 3.5, 0), (50, 1580, 3, 0), (53, 1590, 3.5, 0), (46, 1595, 3, -1),
    (51, 1597, 3.5, 0), (39, 1586, 3, 0), (42, 1578, 3, 0),
]

# ---------------- panel D: (x, y, dx, dy) ----------------
d_top = [
    (13, 2400, 3, -3), (15, 2425, 4, -6), (17, 2435, 4.5, -8), (19, 2412, 3.5, -5), (21, 2440, 4, -7), (23, 2420, 4.5, -9),
    (25, 2432, 4, -6), (27, 2442, 4.5, -8), (29, 2415, 4, -7), (31, 2438, 4.5, -9), (33, 2425, 4, -8), (35, 2444, 3.5, -5),
    (37, 2418, 4.5, -9), (39, 2432, 4, -7), (41, 2410, 4.5, -10), (43, 2428, 4, -8), (46, 2405, 3.5, -7), (49, 2420, 4, -6),
    (52, 2400, 3.5, -7), (55, 2412, 3, -5),
    (14, 2385, 3.5, -5), (16, 2405, 4, -6), (18, 2392, 4.5, -8), (20, 2425, 4, -7), (22, 2398, 4.5, -9), (24, 2410, 4, -8),
    (26, 2388, 4.5, -10), (28, 2400, 4, -8), (30, 2380, 4.5, -10), (32, 2395, 4, -9), (34, 2375, 4.5, -10), (36, 2390, 4, -9),
    (38, 2370, 4.5, -11), (40, 2385, 4, -9), (42, 2365, 4.5, -11), (44, 2380, 4, -9), (47, 2375, 4, -8), (50, 2368, 3.5, -7),
    (53, 2378, 3.5, -6), (56, 2365, 3, -6), (59, 2372, 3, -5),
    (12.5, 2398, 2.5, -2), (13.5, 2403, 3, -3), (14.5, 2396, 2.5, -2),
    (22.6, 2471, 1, 0), (27.8, 2471, 0.4, 0),
]
d_top2 = [
    (14, 2410, 3.5, -5), (15.5, 2395, 3, -4), (17, 2420, 4, -7), (18.5, 2405, 3.5, -6), (20, 2435, 4, -7), (21.5, 2410, 4, -8),
    (23, 2440, 4, -7), (24.5, 2425, 4, -8), (26, 2400, 4.5, -9), (27.5, 2430, 4, -7), (29, 2395, 4.5, -9), (30.5, 2422, 4, -8),
    (32, 2440, 4, -7), (33.5, 2405, 4.5, -9), (35, 2430, 4, -8), (36.5, 2400, 4.5, -10), (38, 2420, 4, -8), (39.5, 2395, 4.5, -10),
    (41, 2425, 4, -8), (42.5, 2392, 4.5, -10), (44, 2415, 4, -8), (45.5, 2390, 4, -9), (47, 2412, 4, -7), (48.5, 2385, 4, -8),
    (50.5, 2395, 3.5, -7), (53.5, 2390, 3.5, -6), (57, 2388, 3.5, -6), (60, 2385, 3, -5), (62, 2380, 3.5, -4),
    (16, 2370, 3.5, -6), (20, 2375, 3.5, -7), (24, 2365, 4, -9), (28, 2370, 4, -10), (32, 2360, 4.5, -11), (36, 2365, 4.5, -11),
    (40, 2355, 4.5, -11), (44, 2360, 4, -10), (48, 2352, 4, -9),
]
d_diag = [
    (22, 2360, 5, -14), (25, 2345, 5.5, -16), (28, 2355, 5, -15), (31, 2335, 6, -18), (34, 2350, 5, -15), (37, 2330, 5.5, -17),
    (40, 2342, 5, -14), (43, 2325, 4.5, -13),
    (24, 2310, 5, -15), (27, 2295, 6, -18), (30, 2312, 5, -15), (33, 2290, 6, -18), (36, 2305, 5.5, -16), (39, 2285, 5, -15),
    (42, 2300, 4.5, -14),
    (26, 2265, 5.5, -16), (29, 2250, 6, -18), (32, 2270, 5, -15), (35, 2245, 6, -18), (38, 2262, 5.5, -17), (41, 2240, 5, -15),
    (28, 2220, 5.5, -16), (31, 2205, 6, -18), (34, 2225, 5, -15), (37, 2200, 6, -18), (40, 2215, 5, -15), (43, 2195, 4.5, -13),
    (29, 2175, 5.5, -16), (32, 2160, 6, -18), (35, 2178, 5, -15), (38, 2150, 5.5, -17), (41, 2165, 5, -14),
    (27, 2125, 5.5, -16), (30, 2110, 6, -18), (33, 2128, 5, -15), (36, 2100, 6, -18), (39, 2115, 5, -14),
    (22, 2080, 5.5, -15), (25, 2065, 6, -18), (28, 2085, 5, -15), (31, 2060, 6, -17), (34, 2075, 5, -14), (37, 2050, 5, -13),
]
d_diag2 = [
    (23, 2335, 5, -14), (26, 2325, 5.5, -16), (29, 2332, 5, -15), (32, 2315, 5.5, -16), (35, 2325, 5, -15), (38, 2310, 5.5, -16),
    (41, 2318, 5, -14), (44, 2305, 4.5, -13), (25, 2285, 5, -14), (28, 2272, 5.5, -16), (31, 2282, 5, -15), (34, 2268, 5.5, -16),
    (37, 2280, 5, -14), (40, 2262, 5, -15), (43, 2270, 4.5, -13), (27, 2240, 5, -14), (30, 2230, 5.5, -16), (33, 2242, 5, -15),
    (36, 2222, 5.5, -16), (39, 2235, 5, -14), (42, 2225, 4.5, -13), (30, 2190, 5, -14), (33, 2182, 5.5, -16), (36, 2195, 5, -15),
    (39, 2178, 5, -14), (42, 2188, 4.5, -13), (28, 2150, 5, -14), (31, 2140, 5.5, -16), (34, 2150, 5, -15), (37, 2132, 5, -14),
    (40, 2140, 4.5, -13), (25, 2100, 5, -14), (29, 2090, 5.5, -15), (32, 2098, 5, -14), (35, 2085, 5, -13), (20, 2055, 5, -12),
    (24, 2040, 5, -12), (27, 2030, 5, -10), (32, 2040, 5, -12),
]
d_left = [
    (1.5, 2385, 0.3, -12), (2.5, 2360, 0.4, -14), (3, 2330, 0.3, -10), (2, 2300, 0.4, -12), (1.5, 2270, 0.3, -10),
    (2.5, 2240, 0.4, -12), (1.8, 2205, 0.3, -10), (2.8, 2175, 0.4, -12), (2.2, 2140, 0.3, -10), (3, 2110, 0.4, -12),
    (4, 2395, 0.5, -14), (4.5, 2365, 0.3, -12), (4, 2340, 1.5, -2), (5, 2310, 0.4, -14), (4.5, 2280, 0.3, -12),
    (4, 2262, 2, -1), (5, 2230, 0.4, -10), (4.5, 2200, 0.3, -12), (5, 2165, 0.4, -10), (4.5, 2130, 0.3, -12), (5, 2095, 0.4, -10),
    (6.5, 2380, 0.4, -12), (7, 2350, 0.5, -14), (6.5, 2320, 0.3, -10), (7, 2290, 0.4, -12), (6.5, 2255, 0.3, -10),
    (7, 2225, 0.4, -12), (6.5, 2190, 0.3, -10), (7, 2155, 0.4, -12), (6.5, 2120, 0.3, -10), (7, 2085, 0.4, -8), (5.5, 2060, 0.5, -6),
    (8.5, 2390, 0.5, -10), (9, 2360, 0.4, -12), (8.5, 2330, 0.3, -10), (9, 2300, 0.4, -12), (8.5, 2270, 0.3, -10),
    (9, 2240, 0.4, -12), (8.5, 2205, 0.3, -10), (9, 2170, 0.4, -12), (8.5, 2140, 0.3, -10), (9, 2110, 0.4, -10),
]
d_left2 = [
    (1.2, 2360, 0.3, -7), (2.2, 2320, 0.2, -8), (3.3, 2290, 0.3, -6), (1.6, 2250, 0.2, -8), (2.6, 2220, 0.3, -6),
    (3.4, 2190, 0.2, -8), (1.8, 2160, 0.3, -7), (2.8, 2125, 0.2, -6), (3.5, 2095, 0.3, -8), (3.8, 2375, 0.3, -6),
    (5.5, 2355, 0.2, -6), (3.6, 2255, 2.5, -1), (5.8, 2330, 0.3, -7), (6, 2290, 0.2, -6), (5.8, 2245, 0.3, -7),
    (6, 2205, 0.2, -6), (5.8, 2170, 0.3, -7), (6, 2135, 0.2, -6), (7.6, 2370, 0.3, -6), (7.8, 2310, 0.2, -7),
    (7.6, 2270, 0.3, -6), (7.8, 2235, 0.2, -7), (7.6, 2185, 0.3, -6), (7.8, 2150, 0.2, -7), (7.6, 2100, 0.3, -6),
    (9.6, 2380, 0.3, -6), (9.8, 2320, 0.2, -7), (9.6, 2280, 0.3, -6), (9.8, 2220, 0.2, -7), (9.6, 2160, 0.3, -6),
    (9.8, 2125, 0.2, -7), (4.8, 2380, 1.5, -1), (6.2, 2395, 1.8, -1), (2.5, 2405, 0.3, -8), (5, 2405, 0.3, -6),
]
d_sparse = [
    (11, 2370, 1, -3), (13, 2350, 0.8, -2), (15, 2330, 1, -4), (11, 2310, 0.5, -3), (14, 2290, 0.8, -3), (17, 2300, 1, -3),
    (12, 2265, 0.5, -2), (15, 2245, 0.8, -4), (18, 2260, 1, -3), (11, 2230, 0.5, -3), (13, 2210, 0.8, -2), (16, 2190, 0.5, -3),
    (19, 2210, 1, -4), (12, 2170, 0.5, -2), (15, 2150, 0.8, -3), (18, 2160, 0.5, -2), (21, 2180, 1, -3), (11, 2130, 0.5, -3),
    (14, 2110, 0.8, -2), (17, 2125, 0.5, -3), (20, 2140, 0.8, -2), (23, 2150, 1, -3), (13, 2090, 0.8, -3), (16, 2080, 1, -4),
    (19, 2100, 0.5, -2), (20, 2320, 1, -5), (22, 2250, 1.5, -5), (24, 2200, 1, -4), (10.5, 2190, 0.4, -8), (12, 2140, 0.4, -6),
    (10.5, 2345, 0.4, -3), (12.5, 2325, 0.4, -3), (14.5, 2310, 0.4, -3), (16.5, 2340, 0.4, -3), (18.5, 2320, 0.4, -3),
    (20.5, 2300, 0.4, -3), (12, 2285, 0.4, -3), (16, 2275, 0.4, -3), (19.5, 2285, 0.4, -3), (21.5, 2265, 0.4, -3),
    (10.8, 2250, 0.4, -3), (14, 2228, 0.4, -3), (17, 2238, 0.4, -3), (20, 2230, 0.4, -3), (23, 2220, 0.4, -3),
    (12.5, 2195, 0.4, -3), (15, 2178, 0.4, -3), (17.5, 2205, 0.4, -3), (20.5, 2195, 0.4, -3), (22.5, 2170, 0.4, -3),
    (10.5, 2155, 0.4, -3), (13.5, 2135, 0.4, -3), (16, 2140, 0.4, -3), (19, 2120, 0.4, -3), (22, 2115, 0.4, -3),
    (11.5, 2105, 0.4, -3), (15, 2095, 0.4, -3), (18, 2085, 0.4, -3), (21, 2080, 0.4, -3), (12.5, 2070, 0.4, -3),
    (17, 2195, 1.5, -3), (22, 2215, 1.5, -4), (23.5, 2250, 1, -3), (24.5, 2290, 1.2, -4),
]
d_bottom = [
    (10, 2010, 3, -5), (12, 1995, 3.5, -4), (14, 2020, 3, -6), (15, 1985, 4, -3), (17, 2005, 3.5, -5), (18, 1975, 4, -3),
    (20, 1995, 3.5, -4), (21, 2025, 3, -6), (22, 1968, 4, -2), (24, 1988, 3.5, -4), (25, 2010, 4, -5), (26, 1962, 3.5, -2),
    (28, 1980, 4, -3), (29, 2002, 3.5, -5), (30, 1970, 4, -3), (31, 2020, 3.5, -6), (32, 1990, 4, -4), (33, 1960, 3.5, -2),
    (35, 1978, 4, -3), (36, 2005, 3.5, -5), (37, 1965, 4, -2), (39, 1985, 3.5, -3), (40, 2010, 4, -4), (41, 1958, 3.5, -1),
    (43, 1975, 4, -2), (44, 1995, 3.5, -3), (46, 1962, 4, -1), (47, 2015, 3.5, -3), (48, 1982, 4, -2), (50, 1970, 3.5, -1),
    (51, 2000, 4, -2), (53, 1958, 3.5, 0), (54, 1988, 4, -1), (56, 1975, 3.5, 0), (58, 1958, 3.5, 0), (60, 1980, 3, 1),
    (16, 2040, 3, -6), (19, 2050, 3.5, -7), (23, 2038, 4, -6), (27, 2045, 3.5, -7), (13, 2060, 3, -6), (44, 2030, 4, -3),
    (48, 2040, 3.5, -2), (52, 2035, 4, -1),
]
d_bottom2 = [
    (11, 2000, 3, -4), (13, 1985, 3.5, -3), (15, 2005, 3, -5), (16, 1975, 3.5, -3), (18, 1995, 3, -4), (19, 1965, 3.5, -2),
    (21, 1985, 3, -3), (23, 2000, 3.5, -5), (24, 1972, 3, -2), (26, 1990, 3.5, -3), (27, 2018, 3, -5), (29, 1965, 3.5, -2),
    (30, 1990, 3, -3), (32, 2005, 3.5, -4), (34, 1968, 3, -2), (35, 1992, 3.5, -3), (37, 2015, 3, -4), (38, 1975, 3.5, -2),
    (40, 1995, 3, -3), (42, 1968, 3.5, -1), (43, 2005, 3, -3), (45, 1978, 3.5, -2), (47, 1990, 3, -2), (49, 1962, 3.5, -1),
    (50, 1985, 3, -1), (52, 1995, 3.5, -2), (54, 1970, 3, 0), (55, 2005, 3.5, -2), (57, 1985, 3, 0), (59, 1968, 3, 0),
    (28, 2030, 4, -7), (34, 2025, 4, -6), (38, 2035, 4, -6), (41, 2028, 4, -5), (46, 2020, 3.5, -3), (50, 2025, 3.5, -2),
    (54, 2020, 3.5, -1), (57, 2030, 3, 0),
]
d_right = [
    (47, 2345, 3.5, 2), (50, 2330, 3, 3), (53, 2350, 3.5, 2), (56, 2335, 4, 3), (59, 2348, 3.5, 2), (62, 2330, 4, 3),
    (65, 2345, 3, 2), (58, 2318, 3.5, 3), (61, 2300, 4, 4), (64, 2325, 3.5, 3),
    (46, 2290, 3, 3), (49, 2275, 3.5, 4), (52, 2295, 3, 3), (55, 2280, 3.5, 4), (58, 2268, 4, 5), (61, 2285, 3.5, 4),
    (64, 2270, 3, 3), (67.6, 2263, 3.1, 2), (71.4, 2307, 3.2, 4), (74.5, 2322, 2.3, 2), (79.2, 2316, 2.7, 3),
    (78.4, 2379, 2.8, 1), (79.2, 2260, 2.7, 4), (76, 2212, 2.8, 2), (71.4, 2238, 3.2, 3),
    (47, 2240, 3, 3), (50, 2225, 3.5, 4), (53, 2245, 3, 3), (56, 2230, 3.5, 4), (59, 2215, 4, 4), (62, 2235, 3.5, 3),
    (65, 2220, 4, 4), (68, 2205, 3.5, 3), (71, 2190, 3, 2),
    (48, 2185, 3, 4), (51, 2170, 3.5, 5), (54, 2190, 3, 3), (57, 2175, 3.5, 4), (60, 2160, 4, 5), (63, 2178, 3.5, 4),
    (66, 2165, 3, 3), (69, 2150, 3.5, 3),
    (47, 2125, 3.5, 4), (50, 2110, 3, 5), (53, 2130, 3.5, 4), (56, 2115, 4, 5), (59, 2100, 3.5, 4), (62, 2120, 3, 3),
    (65, 2105, 3.5, 4), (63, 2090, 3, 3),
    (45, 2075, 3, 3), (49, 2065, 3.5, 4), (52, 2080, 3, 3), (55, 2060, 3.5, 3), (58, 2072, 3, 3), (61, 2055, 3.5, 2),
    (64, 2065, 3, 2), (68.4, 2040, 2.3, 0), (66, 2045, 3, 1),
    (64, 2377, 4, 1), (70, 2372, 3, 2), (72, 2355, 3.5, 3),
]
d_right2 = [
    (46, 2330, 3.5, 2), (49, 2320, 3, 3), (52, 2335, 3.5, 3), (55, 2318, 3, 3), (58, 2335, 3.5, 2), (61, 2318, 3, 3),
    (64, 2300, 3.5, 3), (67, 2315, 3, 3), (69, 2330, 3.5, 2), (48, 2262, 3, 3), (51, 2250, 3.5, 4), (54, 2265, 3, 3),
    (57, 2252, 3.5, 4), (60, 2240, 3, 4), (63, 2255, 3.5, 3), (66, 2245, 3, 3), (69, 2230, 3.5, 3), (72, 2265, 3, 3),
    (75, 2275, 3.5, 3), (49, 2200, 3, 4), (52, 2210, 3.5, 4), (55, 2200, 3, 4), (58, 2190, 3.5, 4), (61, 2200, 3, 3),
    (64, 2188, 3.5, 4), (67, 2180, 3, 3), (52, 2150, 3, 4), (55, 2140, 3.5, 5), (58, 2135, 3, 4), (61, 2145, 3.5, 4),
    (64, 2130, 3, 4), (67, 2125, 3.5, 3), (49, 2090, 3, 4), (52, 2100, 3.5, 4), (55, 2085, 3, 3), (58, 2090, 3.5, 4),
    (61, 2080, 3, 3), (64, 2085, 3.5, 3), (57, 2050, 3, 2), (60, 2040, 3, 1), (53, 2055, 3, 2),
]

FONT = "Liberation Sans"
SERIF = "Liberation Serif"


def seg_frame(segs):
    rows = []
    for s in segs:
        if len(s) == 3:
            x, y, dx = s
            dy = 0.0
        else:
            x, y, dx, dy = s
        rows.append({"x": x, "y": y, "xe": x + dx, "ye": y + dy})
    return pd.DataFrame(rows)


ONE = pd.DataFrame({"k": [0]})


def txt(s, x, y, size, font, italic=False, bold=False):
    return alt.Chart(ONE).mark_text(
        text=s, font=font, fontSize=size,
        fontStyle="italic" if italic else "normal",
        fontWeight="bold" if bold else "normal",
        align="center", baseline="alphabetic", color="black",
    ).encode(x=alt.value(x), y=alt.value(y))


def caption(i, lay):
    parts = [
        txt(panel_letters[i], lay["L"], lay["ly"], 15, FONT, bold=True),
        txt("r", lay["r"], lay["my"], 23, SERIF, italic=True),
        txt("e", lay["e"], lay["my"] + 4, 16, SERIF, italic=True),
        txt("=", lay["eq"], lay["my"], 26, SERIF),
        txt(panel_re[i], lay["num"], lay["my"], 21, SERIF),
        txt("γ", lay["g"], lay["my"], 24, SERIF, italic=True),
    ]
    if panel_semicolon[i]:
        parts.append(txt(";", lay["sc"], lay["my"], 22, SERIF))
    return parts


def panel(i, segs, xdom, ydom, xt, yt, w, h, sw, lay):
    df = seg_frame(segs)
    rules = alt.Chart(df).mark_rule(color="black", strokeWidth=sw).encode(
        x=alt.X("x:Q", scale=alt.Scale(domain=xdom, nice=False, zero=False),
                axis=alt.Axis(values=xt, title="Number of spikes", format="d")),
        x2=alt.X2("xe"),
        y=alt.Y("y:Q", scale=alt.Scale(domain=ydom, nice=False, zero=False),
                axis=alt.Axis(values=yt, title="Remaining energy", format="d")),
        y2=alt.Y2("ye"),
    )
    return alt.layer(rules, *caption(i, lay)).properties(width=w, height=h)


lay_a = dict(L=-53, ly=322, r=-32, e=-22, eq=-2, num=35, g=64, sc=76, my=323)
lay_b = dict(L=-53, ly=319, r=-35, e=-25, eq=-4, num=33, g=62, sc=0, my=320)
lay_c = dict(L=-58, ly=346, r=-39, e=-29, eq=-10, num=29, g=58, sc=70, my=348)
lay_d = dict(L=-59, ly=347, r=-33, e=-23, eq=-4, num=32, g=61, sc=0, my=348)

pA = panel(0, a_segs, [100, 220], [7100, 7900], a_xticks, a_yticks, 384, 251, 1.8, lay_a)
pB = panel(1, b_outer + b_core + b_core2 + b_mid + b_mid2, [20, 180], [5968, 5986], b_xticks, b_yticks, 384, 251, 2.2, lay_b)
pC = panel(2, c_top + c_top2 + c_right + c_right2 + c_diag + c_diag2 + c_left + c_left2 + c_bottom + c_bottom2,
           [0, 120], [1500, 2100], c_xticks, c_yticks, 384, 251, 1.6, lay_c)
pD = panel(3, d_top + d_top2 + d_diag + d_diag2 + d_left + d_left2 + d_sparse + d_bottom + d_bottom2 + d_right + d_right2,
           [0, 90], [1900, 2500], d_xticks, d_yticks, 387, 251, 1.6, lay_d)

chart = alt.concat(
    pA, pB, pC, pD, columns=2, spacing={"row": 123, "column": 114}, bounds="flush"
).properties(
    padding=0, background="white"
).configure_axis(
    grid=True, gridColor="#dedede", gridWidth=1, domain=False, ticks=False, tickSize=0,
    labelFont=FONT, labelFontSize=13, labelColor="#333333", labelFlush=False, labelOverlap=False,
    titleFont=FONT, titleFontSize=26, titleFontWeight="normal", titleColor="#222222",
).configure_axisX(
    labelPadding=5, titlePadding=4,
).configure_axisY(
    labelPadding=6, titlePadding=5,
).configure_view(
    stroke="#dedede", strokeWidth=1,
)

chart.save("out.html", embed_options={"renderer": "svg", "actions": False})
